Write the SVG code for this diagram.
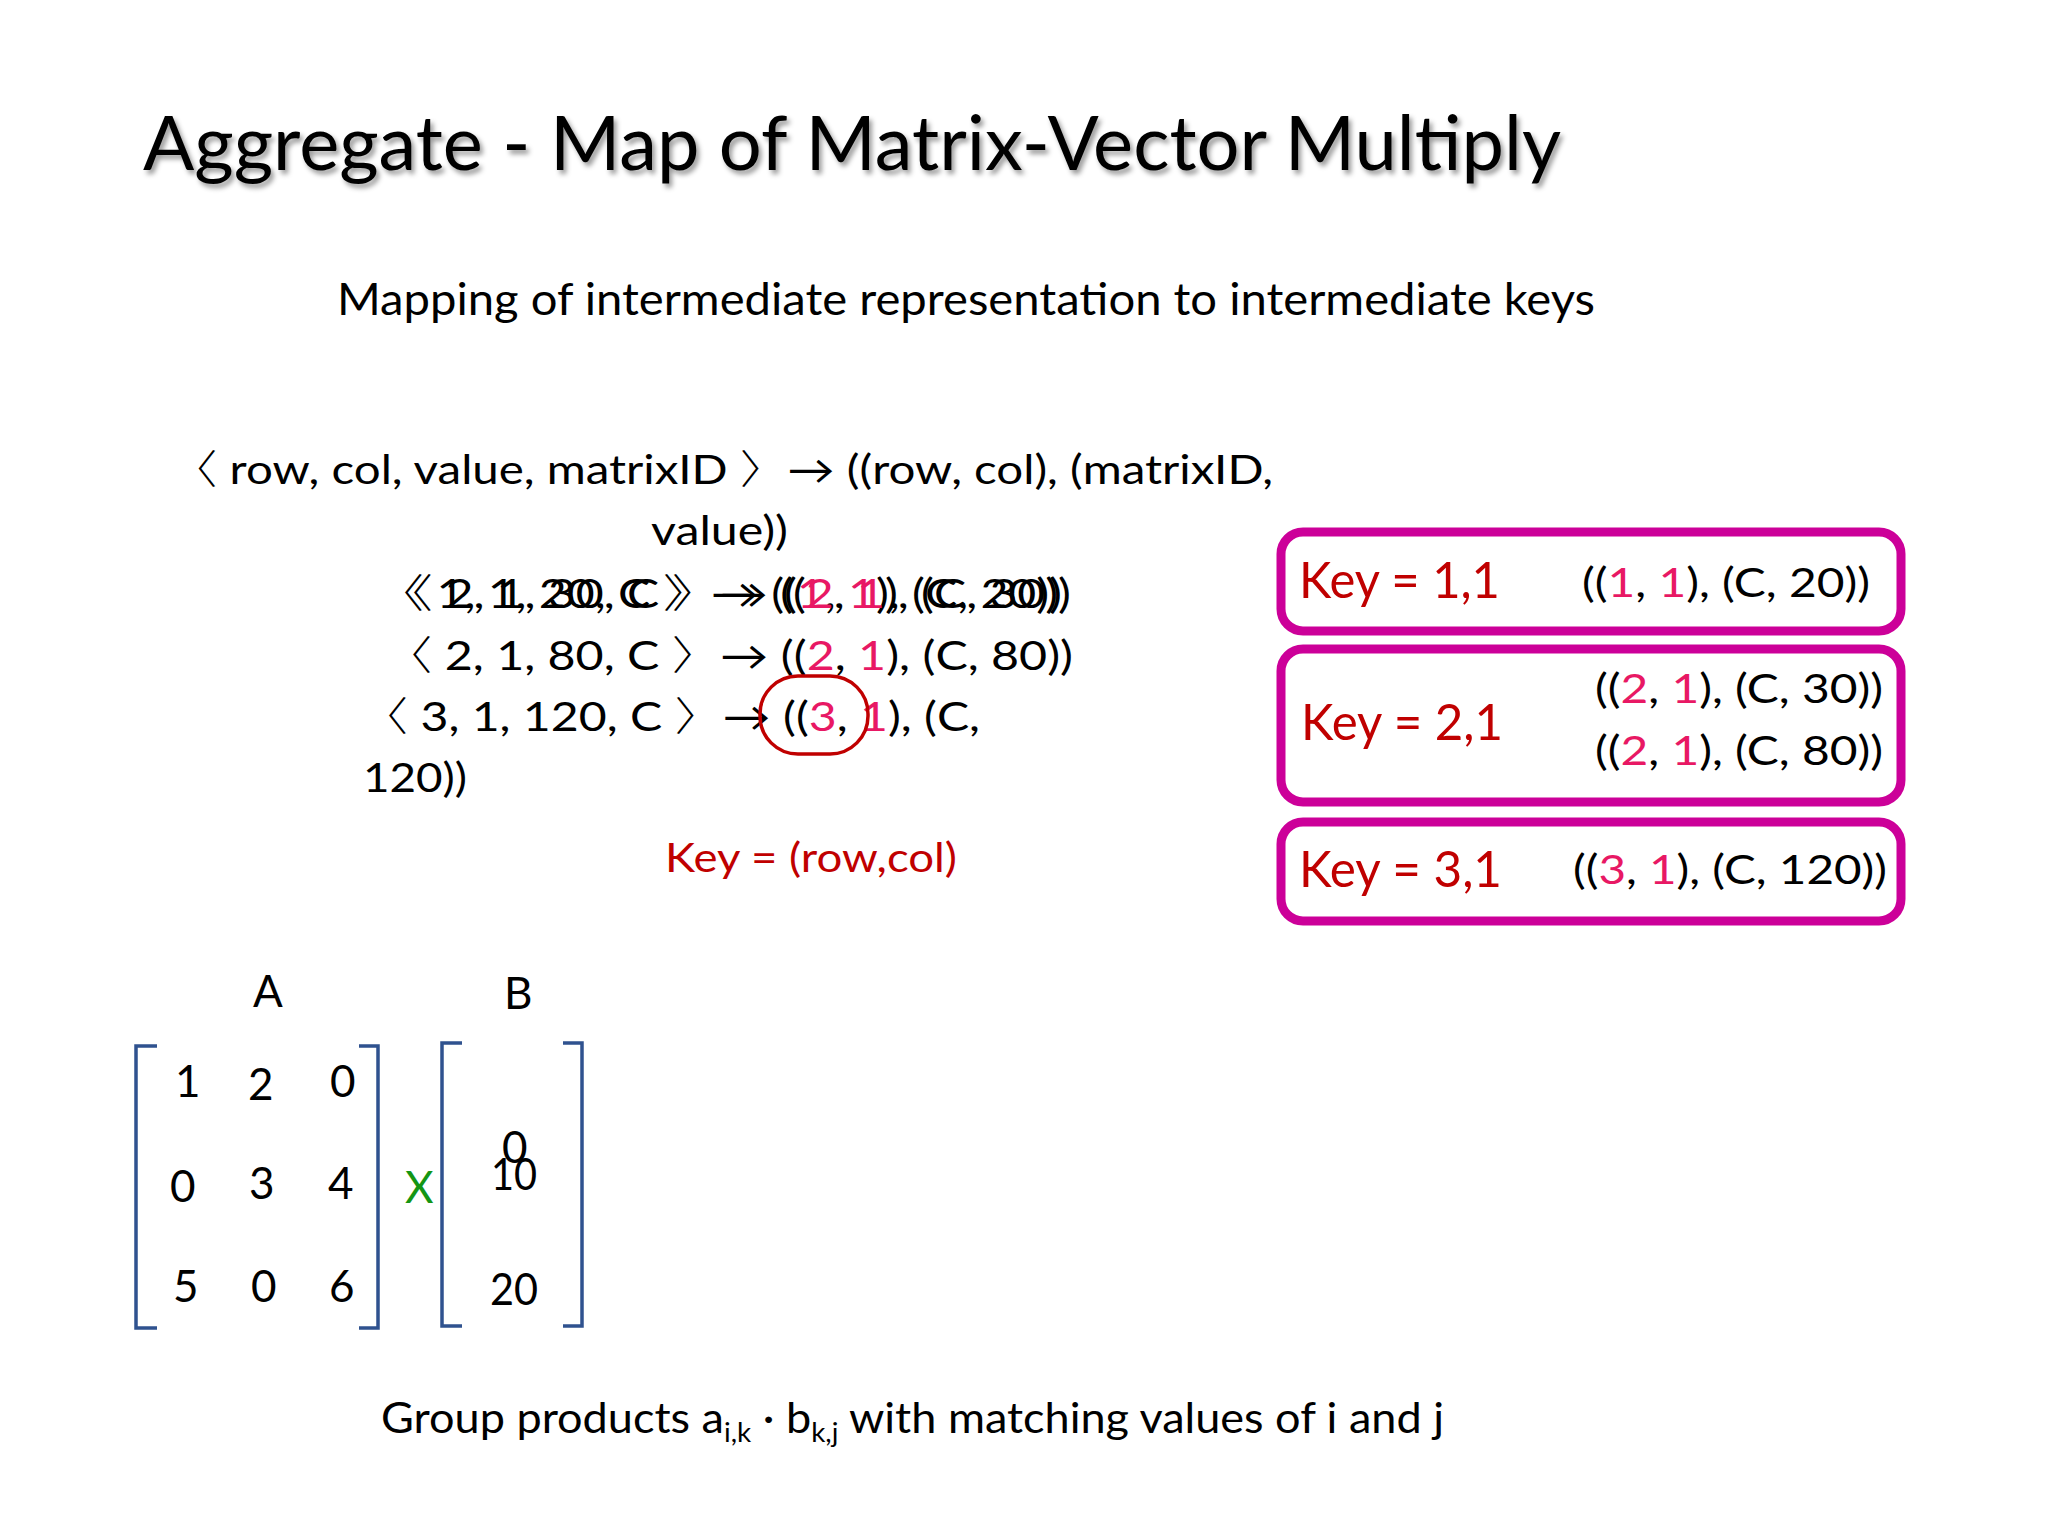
<svg xmlns="http://www.w3.org/2000/svg" width="2048" height="1536" viewBox="0 0 2048 1536">
<defs>
<filter id="shadow" x="-5%" y="-20%" width="110%" height="150%">
<feDropShadow dx="3" dy="4" stdDeviation="2.5" flood-color="#000" flood-opacity="0.4"/>
</filter>
<style>
text{font-family:Lato,"Open Sans","Liberation Sans","DejaVu Sans",sans-serif;fill:#000;}
.body{font-size:40px;}
.pk{fill:#E81864;}
.red{fill:#C00000;}
.ab{font-family:"Noto Sans CJK SC","Noto Sans CJK JP",sans-serif;font-weight:300;}
.key{font-size:50px;fill:#C00000;}
.tup{font-size:40px;}
.box{fill:#fff;stroke:#CC0099;stroke-width:9;}
.br{fill:none;stroke:#2F528F;stroke-width:3.5;}
.mx{font-size:44px;}
</style>
</defs>
<rect width="2048" height="1536" fill="#fff"/>

<g id="title">
<text x="143" y="170" font-size="76" textLength="1418" lengthAdjust="spacingAndGlyphs" filter="url(#shadow)">Aggregate - Map of Matrix-Vector Multiply</text>
</g>
<g id="subtitle">
<text x="337" y="315" font-size="44" textLength="1258" lengthAdjust="spacingAndGlyphs">Mapping of intermediate representation to intermediate keys</text>
</g>

<g id="mapping-rule">
<text class="body" x="170" y="484" textLength="1103" lengthAdjust="spacingAndGlyphs"><tspan class="ab">〈</tspan> row, col, value, matrixID <tspan class="ab">〉</tspan>→  ((row, col), (matrixID,</text>
<text class="body" x="651" y="545" textLength="137" lengthAdjust="spacingAndGlyphs">value))</text>
</g>

<g id="record-1-2">
<text class="body" x="376" y="608" textLength="686" lengthAdjust="spacingAndGlyphs"><tspan class="ab">〈</tspan> 1, 1, 20, C <tspan class="ab">〉</tspan>→  ((<tspan class="pk">1</tspan>, <tspan class="pk">1</tspan>), (C, 20))</text>
<text class="body" x="385" y="608" textLength="686" lengthAdjust="spacingAndGlyphs"><tspan class="ab">〈</tspan> 2, 1, 30, C <tspan class="ab">〉</tspan>→  ((<tspan class="pk">2</tspan>, <tspan class="pk">1</tspan>), (C, 30))</text>
</g>
<g id="record-3">
<text class="body" x="384" y="670" textLength="689" lengthAdjust="spacingAndGlyphs"><tspan class="ab">〈</tspan> 2, 1, 80, C <tspan class="ab">〉</tspan>→  ((<tspan class="pk">2</tspan>, <tspan class="pk">1</tspan>), (C, 80))</text>
</g>
<g id="record-4">
<text class="body" x="360" y="731" textLength="620" lengthAdjust="spacingAndGlyphs"><tspan class="ab">〈</tspan> 3, 1, 120, C <tspan class="ab">〉</tspan>→ ((<tspan class="pk">3</tspan>, <tspan class="pk">1</tspan>), (C,</text>
<text class="body" x="363" y="792" textLength="104" lengthAdjust="spacingAndGlyphs">120))</text>
<rect x="760" y="676" width="108" height="78" rx="38" ry="38" fill="none" stroke="#C00000" stroke-width="3.5"/>
</g>
<g id="key-label">
<text class="body red" x="665" y="872" textLength="292" lengthAdjust="spacingAndGlyphs">Key = (row,col)</text>
</g>

<g id="key-1-1">
<rect class="box" x="1281" y="532" width="620" height="99" rx="22"/>
<text class="key" x="1299" y="598" textLength="201" lengthAdjust="spacingAndGlyphs">Key = 1,1</text>
<text class="tup" x="1582" y="597" textLength="288" lengthAdjust="spacingAndGlyphs">((<tspan class="pk">1</tspan>, <tspan class="pk">1</tspan>), (C, 20))</text>
</g>
<g id="key-2-1">
<rect class="box" x="1281" y="649" width="620" height="153" rx="22"/>
<text class="key" x="1301" y="740" textLength="202" lengthAdjust="spacingAndGlyphs">Key = 2,1</text>
<text class="tup" x="1595" y="703" textLength="288" lengthAdjust="spacingAndGlyphs">((<tspan class="pk">2</tspan>, <tspan class="pk">1</tspan>), (C, 30))</text>
<text class="tup" x="1595" y="765" textLength="288" lengthAdjust="spacingAndGlyphs">((<tspan class="pk">2</tspan>, <tspan class="pk">1</tspan>), (C, 80))</text>
</g>
<g id="key-3-1">
<rect class="box" x="1281" y="822" width="620" height="99" rx="22"/>
<text class="key" x="1299" y="887" textLength="203" lengthAdjust="spacingAndGlyphs">Key = 3,1</text>
<text class="tup" x="1573" y="884" textLength="314" lengthAdjust="spacingAndGlyphs">((<tspan class="pk">3</tspan>, <tspan class="pk">1</tspan>), (C, 120))</text>
</g>

<g id="matrix-A">
<text class="mx" x="253" y="1007" font-size="42">A</text>
<path class="br" d="M157,1046 H136 V1328 H157"/>
<path class="br" d="M359,1046 H378 V1328 H359"/>
<text class="mx" x="175" y="1097">1</text>
<text class="mx" x="248" y="1100">2</text>
<text class="mx" x="330" y="1097">0</text>
<text class="mx" x="170" y="1202">0</text>
<text class="mx" x="249" y="1199">3</text>
<text class="mx" x="328" y="1199">4</text>
<text class="mx" x="173" y="1302">5</text>
<text class="mx" x="251" y="1302">0</text>
<text class="mx" x="329" y="1302">6</text>
</g>
<g id="times">
<text class="mx" x="405" y="1203" style="fill:#149614">X</text>
</g>
<g id="vector-B">
<text class="mx" x="504" y="1009" font-size="42">B</text>
<path class="br" d="M462,1043 H442 V1326 H462"/>
<path class="br" d="M563,1043 H582 V1326 H563"/>
<text class="mx" x="502" y="1163">0</text>
<text class="mx" x="491" y="1190" textLength="46" lengthAdjust="spacingAndGlyphs">10</text>
<text class="mx" x="490" y="1305" textLength="48" lengthAdjust="spacingAndGlyphs">20</text>
</g>

<g id="footer">
<text x="381" y="1433" font-size="42" textLength="1063" lengthAdjust="spacingAndGlyphs">Group products a<tspan font-size="26" dy="9">i,k</tspan><tspan dy="-9"> · b</tspan><tspan font-size="26" dy="9">k,j</tspan><tspan dy="-9"> with matching values of i and j</tspan></text>
</g>

<g id="connectors"/>
</svg>
